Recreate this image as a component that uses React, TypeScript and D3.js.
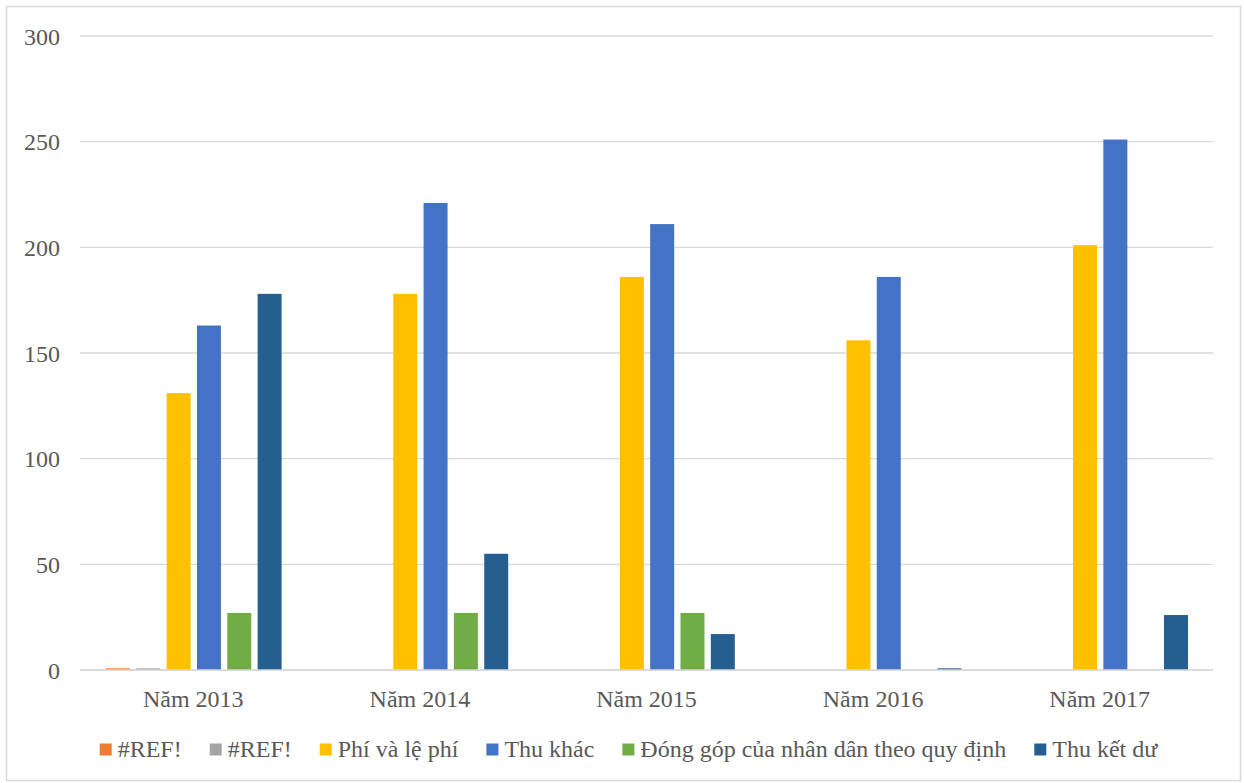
import React, { useEffect, useRef } from "react";
import * as d3 from "d3";

const categories = ["Năm 2013", "Năm 2014", "Năm 2015", "Năm 2016", "Năm 2017"];
const seriesNames = ["#REF!", "#REF!", "Phí và lệ phí", "Thu khác", "Đóng góp của nhân dân theo quy định", "Thu kết dư"];
const seriesColors = ["#ED7D31", "#A5A5A5", "#FFC000", "#4472C4", "#70AD47", "#255E91"];
const refA = [0.8, 0, 0, 0, 0];
const refB = [0.8, 0, 0, 0, 0];
const phiLePhi = [131, 178, 186, 156, 201];
const thuKhac = [163, 221, 211, 186, 251];
const dongGop = [27, 27, 27, 0, 0];
const thuKetDu = [178, 55, 17, 0.8, 26];
const yTicks = [0, 50, 100, 150, 200, 250, 300];

const seriesValues = [refA, refB, phiLePhi, thuKhac, dongGop, thuKetDu];

export default function App() {
  const ref = useRef<SVGSVGElement | null>(null);
  useEffect(() => {
    const svg = d3.select(ref.current);
    svg.selectAll("*").remove();
    const W = 1244, H = 783;
    const left = 80, right = 1213, top = 36, bottom = 670;
    const font = "'Liberation Serif', 'Times New Roman', serif";
    const fs = "24px";
    svg.append("rect").attr("x", 0).attr("y", 0).attr("width", W).attr("height", H).attr("fill", "#fff");
    svg.append("rect").attr("x", 6.5).attr("y", 6.5).attr("width", 1234).attr("height", 774)
      .attr("fill", "none").attr("stroke", "#d9d9d9").attr("stroke-width", 1.5);

    const y = d3.scaleLinear().domain([0, 300]).range([bottom, top]);
    const x0 = d3.scaleBand().domain(categories).range([left, right]).paddingInner(0).paddingOuter(0);
    const x1 = d3.scaleBand().domain(d3.range(seriesNames.length).map(String))
      .range([26, x0.bandwidth() - 25]).paddingInner(0.209).paddingOuter(0);

    const g = svg.append("g");
    yTicks.forEach((t) => {
      g.append("line").attr("x1", left).attr("x2", right).attr("y1", y(t)).attr("y2", y(t))
        .attr("stroke", "#d9d9d9").attr("stroke-width", 1.3);
      g.append("text").attr("x", 60).attr("y", y(t) + 8.5).attr("text-anchor", "end")
        .style("font-family", font).style("font-size", fs).attr("fill", "#595959").text(String(t));
    });

    categories.forEach((c, ci) => {
      const gx = x0(c)!;
      seriesValues.forEach((vals, si) => {
        const v = vals[ci];
        if (v <= 0) return;
        g.append("rect").attr("x", gx + x1(String(si))!).attr("y", y(v))
          .attr("width", x1.bandwidth()).attr("height", bottom - y(v)).attr("fill", seriesColors[si]);
      });
      g.append("text").attr("x", gx + x0.bandwidth() / 2).attr("y", 707).attr("text-anchor", "middle")
        .style("font-family", font).style("font-size", fs).attr("fill", "#595959").text(c);
    });
    g.append("line").attr("x1", left).attr("x2", right).attr("y1", bottom).attr("y2", bottom)
      .attr("stroke", "#d9d9d9").attr("stroke-width", 1.3);

    // legend
    const lg = g.append("g");
    let lx = 0;
    const ly = 743.5;
    seriesNames.forEach((n, i) => {
      lg.append("rect").attr("x", lx).attr("y", ly).attr("width", 12).attr("height", 12).attr("fill", seriesColors[i]);
      const t = lg.append("text").attr("x", lx + 18).attr("y", 757)
        .style("font-family", font).style("font-size", fs).attr("fill", "#595959").text(n);
      const w = (t.node() as SVGTextElement).getComputedTextLength();
      lx = lx + 18 + w + (i < seriesNames.length - 1 ? 28 : 0);
    });
    const center = 628.5;
    lg.attr("transform", `translate(${center - lx / 2},0)`);
  }, []);
  return (
    <svg ref={ref} width={1244} height={783}
      style={{ position: "absolute", left: 0, top: 0, display: "block" }} />
  );
}
